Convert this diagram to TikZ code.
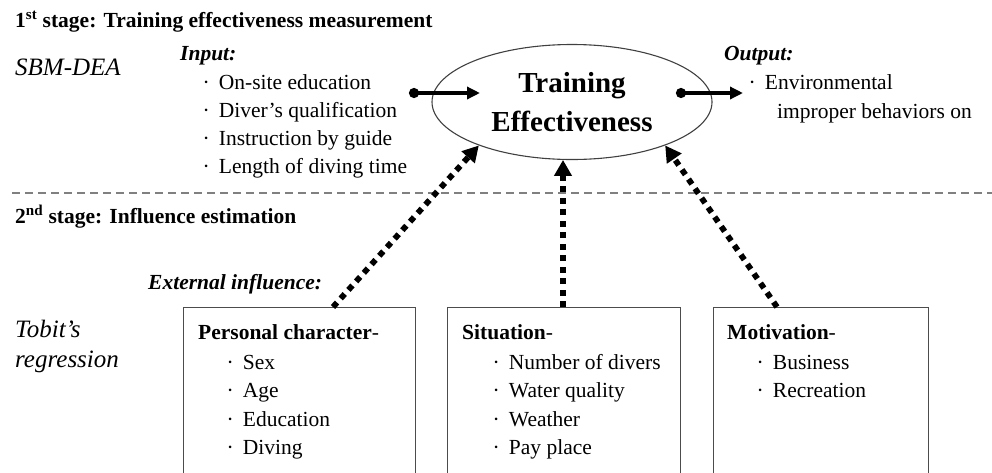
\documentclass[tikz,border=0pt]{standalone}
\usepackage{fontspec}
\setmainfont{Liberation Serif}
\usetikzlibrary{arrows.meta,shapes.geometric,calc}

% bullet mark in front of every list item
\newcommand{\itemdot}{·\hspace{9.3pt}}

\tikzset{
  lbl/.style={anchor=base west, inner sep=0pt, font=\fontsize{21.5}{26}\selectfont},
  hdr/.style={anchor=base west, inner sep=0pt, font=\fontsize{21.5}{26}\selectfont\bfseries},
  sublbl/.style={anchor=base west, inner sep=0pt, font=\fontsize{21.5}{26}\selectfont\bfseries\itshape},
  method/.style={anchor=base west, inner sep=0pt, font=\fontsize{25}{30}\selectfont\itshape},
  effect/.style={ellipse, draw=black!75, line width=1.1pt, minimum width=280pt,
    minimum height=115pt, inner sep=0pt, align=center,
    font=\fontsize{29}{39}\selectfont\bfseries},
  frame/.style={draw=black!70, line width=1.3pt, anchor=north west,
    minimum height=220pt, inner sep=0pt},
  separator/.style={draw=black!50, line width=1.3pt, dash pattern=on 8pt off 5pt},
  linkarrow/.style={line width=3.3pt, {Circle[length=10pt]}-{Triangle[length=13pt,width=12pt]}},
  dotarrow/.style={line width=5.8pt, dash pattern=on 6pt off 5.5pt,
    -{Triangle[length=16pt,width=17pt]}},
}

\begin{document}
\begin{tikzpicture}[x=1pt, y=-1pt]
\useasboundingbox (0,0) rectangle (992,472);
\clip (0,0) rectangle (992,472);

% ---------- first stage ----------
\node[hdr] (stage1) at (15,27) {1\textsuperscript{st} stage: Training effectiveness measurement};
\node[method] (sbm) at (15,75) {SBM-DEA};

\node[sublbl] (inp) at (180,60) {Input:};
\node[lbl] (in1) at (202.3,89)  {\itemdot On-site education};
\node[lbl] (in2) at (202.3,117) {\itemdot Diver’s qualification};
\node[lbl] (in3) at (202.3,145) {\itemdot Instruction by guide};
\node[lbl] (in4) at (202.3,173) {\itemdot Length of diving time};

\node[effect] (te) at (572,102) {Training\\Effectiveness};

\node[sublbl] (outp) at (724,60) {Output:};
\node[lbl] (out1) at (748.3,89) {\itemdot Environmental};
\node[lbl] (out2) at (777,118) {improper behaviors on};

\coordinate (inS) at (409,93);
\coordinate (inE) at (480,93);
\coordinate (outS) at (676,93);
\coordinate (outE) at (743,93);
\draw[linkarrow] (inS) -- (inE);
\draw[linkarrow] (outS) -- (outE);

% ---------- stage separator ----------
\coordinate (sepL) at (12,193);
\coordinate (sepR) at (992,193);
\draw[separator] (sepL) -- (sepR);

% ---------- second stage ----------
\node[hdr] (stage2) at (15,223) {2\textsuperscript{nd} stage: Influence estimation};
\node[sublbl] (ext) at (148,289) {External influence:};
\node[method] (tob1) at (15,337) {Tobit’s};
\node[method] (tob2) at (15,367) {regression};

\node[frame, minimum width=232pt] (pc)  at (183,307) {};
\node[frame, minimum width=233pt] (sit) at (447,307) {};
\node[frame, minimum width=215pt] (mot) at (713,307) {};

\node[hdr] (pcT) at (198,339) {Personal character{\mdseries -}};
\node[lbl] (pc1) at (226.3,369)   {\itemdot Sex};
\node[lbl] (pc2) at (226.3,397.5) {\itemdot Age};
\node[lbl] (pc3) at (226.3,426)   {\itemdot Education};
\node[lbl] (pc4) at (226.3,454.5) {\itemdot Diving};

\node[hdr] (sitT) at (462,339) {Situation{\mdseries -}};
\node[lbl] (sit1) at (492.3,369)   {\itemdot Number of divers};
\node[lbl] (sit2) at (492.3,397.5) {\itemdot Water quality};
\node[lbl] (sit3) at (492.3,426)   {\itemdot Weather};
\node[lbl] (sit4) at (492.3,454.5) {\itemdot Pay place};

\node[hdr] (motT) at (727,339) {Motivation{\mdseries -}};
\node[lbl] (mot1) at (756.3,369)   {\itemdot Business};
\node[lbl] (mot2) at (756.3,397.5) {\itemdot Recreation};

% ---------- influence arrows ----------
\coordinate (pcTop)  at ([xshift=150pt]pc.north west);
\coordinate (sitTop) at ([xshift=116pt]sit.north west);
\coordinate (motTop) at ([xshift=64pt]mot.north west);
\draw[dotarrow] (pcTop) -- (te.205);
\draw[dotarrow] (sitTop) -- (sitTop |- te.261);
\draw[dotarrow] (motTop) -- (te.335);
\end{tikzpicture}
\end{document}
